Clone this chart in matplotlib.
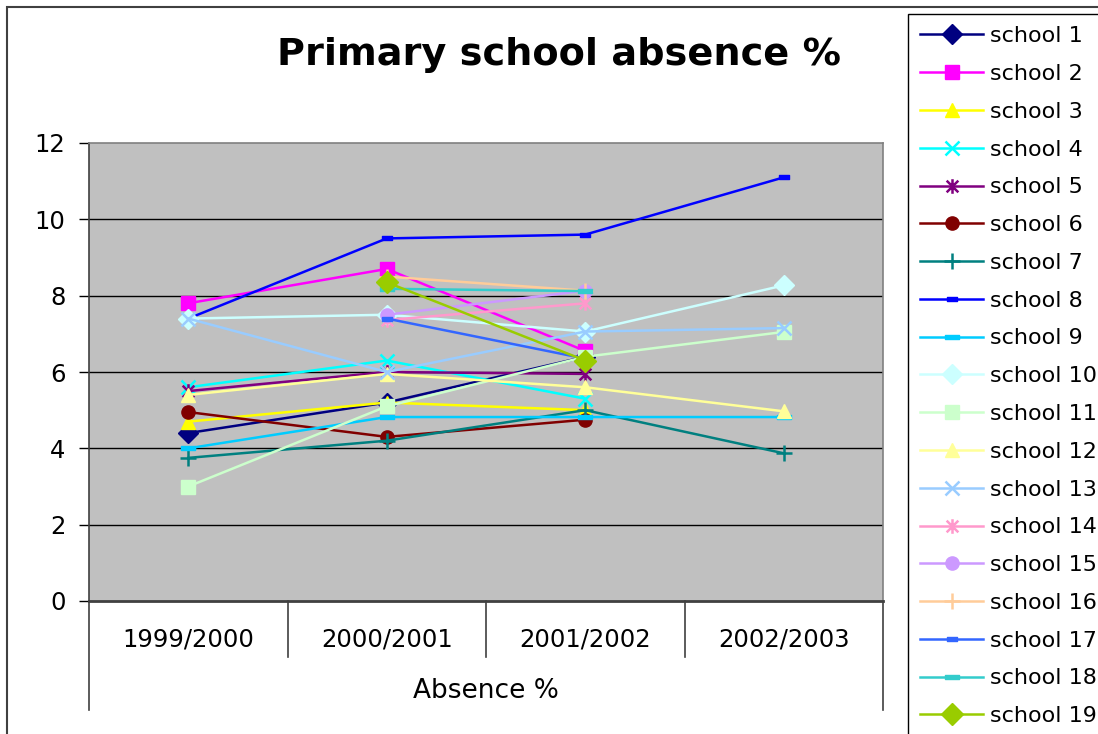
import numpy as np
import matplotlib
matplotlib.use("Agg")
import matplotlib.pyplot as plt
from matplotlib.path import Path
from matplotlib.patches import Rectangle
from matplotlib.lines import Line2D

nan = np.nan
categories = ["1999/2000", "2000/2001", "2001/2002", "2002/2003"]
school_names = ["school %d" % i for i in range(1, 20)]

s1 = [4.4, 5.2, 6.4, nan]
s2 = [7.8, 8.7, 6.55, nan]
s3 = [4.7, 5.2, 5.0, nan]
s4 = [5.6, 6.3, 5.3, nan]
s5 = [5.5, 6.0, 5.95, nan]
s6 = [4.95, 4.3, 4.75, nan]
s7 = [3.75, 4.2, 5.0, 3.87]
s8 = [7.4, 9.5, 9.6, 11.1]
s9 = [4.0, 4.82, 4.82, 4.82]
s10 = [7.4, 7.5, 7.06, 8.27]
s11 = [3.0, 5.1, 6.4, 7.05]
s12 = [5.4, 5.95, 5.6, 4.97]
s13 = [7.4, 6.0, 7.06, 7.15]
s14 = [nan, 7.36, 7.8, nan]
s15 = [nan, 7.5, 8.13, nan]
s16 = [nan, 8.5, 8.13, nan]
s17 = [nan, 7.4, 6.35, nan]
s18 = [nan, 8.18, 8.12, nan]
s19 = [nan, 8.35, 6.3, nan]
series = [s1, s2, s3, s4, s5, s6, s7, s8, s9, s10,
          s11, s12, s13, s14, s15, s16, s17, s18, s19]

colors = ["#000080", "#FF00FF", "#FFFF00", "#00FFFF", "#800080", "#800000",
          "#008080", "#0000FF", "#00CCFF", "#CCFFFF", "#CCFFCC", "#FFFF99",
          "#99CCFF", "#FF99CC", "#CC99FF", "#FFCC99", "#3366FF", "#33CCCC",
          "#99CC00"]

asterisk = Path([(-1, -1), (1, 1), (-1, 1), (1, -1), (0, -1.25), (0, 1.25)],
                [Path.MOVETO, Path.LINETO, Path.MOVETO, Path.LINETO,
                 Path.MOVETO, Path.LINETO])
dash = Path([(-1, -0.35), (1, -0.35), (1, 0.35), (-1, 0.35), (-1, -0.35)],
            [Path.MOVETO, Path.LINETO, Path.LINETO, Path.LINETO, Path.CLOSEPOLY])

# marker, size, filled
mstyles = [("D", 10, True), ("s", 9.5, True), ("^", 10.5, True), ("x", 9.5, False),
           (asterisk, 10.5, False), ("o", 9.5, True), ("+", 11, False),
           (dash, 7.5, True), (dash, 9.5, True),
           ("D", 10, True), ("s", 9.5, True), ("^", 10.5, True), ("x", 9.5, False),
           (asterisk, 10.5, False), ("o", 9.5, True), ("+", 11, False),
           (dash, 7.5, True), (dash, 9.5, True), ("D", 11, True)]

fig = plt.figure(figsize=(10.98, 7.34), dpi=100)
ax = fig.add_axes([89/1098, 1-601/734, (883-89)/1098, (601-143)/734])
ax.set_facecolor("#C0C0C0")

x = np.arange(len(categories))
for vals, c, (m, ms, filled), name in zip(series, colors, mstyles, school_names):
    if filled:
        ax.plot(x, vals, color=c, lw=1.8, marker=m, ms=ms, mfc=c, mec=c,
                mew=1.0, label=name)
    else:
        ax.plot(x, vals, color=c, lw=1.8, marker=m, ms=ms, mfc="none", mec=c,
                mew=1.8, label=name)

ax.set_xlim(-0.5, 3.5)
ax.set_ylim(0, 12)
ax.set_yticks([0, 2, 4, 6, 8, 10, 12])
for yv in [2, 4, 6, 8, 10]:
    ax.axhline(yv, color="black", lw=1.0, zorder=0.5)

ax.set_xticks(x)
ax.set_xticklabels(categories)
ax.tick_params(axis="x", length=0, pad=19, labelsize=17.5)
ax.tick_params(axis="y", direction="out", length=7, width=1, pad=10,
               labelsize=17.5, color="black")

for side in ["top", "right"]:
    ax.spines[side].set_color("#808080")
    ax.spines[side].set_linewidth(1.2)
ax.spines["left"].set_color("#404040")
ax.spines["left"].set_linewidth(1.2)
ax.spines["bottom"].set_color("#404040")
ax.spines["bottom"].set_linewidth(2)

# category separator lines below the axis
trans = ax.get_xaxis_transform()
for xb in [0.5, 1.5, 2.5]:
    ax.plot([xb, xb], [0, -56/458], transform=trans, color="#404040", lw=1.2,
            clip_on=False)
for xb in [-0.5, 3.5]:
    ax.plot([xb, xb], [0, -109/458], transform=trans, color="#404040", lw=1.2,
            clip_on=False)

ax.set_xlabel("Absence %", fontsize=19, va="center")
ax.xaxis.set_label_coords(0.5, -(691-601)/458)

fig.text(559/1098, 1-55/734, "Primary school absence %", fontsize=27.5,
         fontweight="bold", ha="center", va="center")

# outer chart border
fig.add_artist(Rectangle((7/1098, -0.2), 1.2, 1.2 - 7/734,
                         transform=fig.transFigure, fill=False,
                         edgecolor="#404040", lw=1.5))

handles = []
for c, (m, ms, filled), name in zip(colors, mstyles, school_names):
    if filled:
        h = Line2D([], [], color=c, lw=1.8, marker=m, ms=ms, mfc=c, mec=c)
    else:
        h = Line2D([], [], color=c, lw=1.8, marker=m, ms=ms, mfc="none",
                   mec=c, mew=1.8)
    handles.append(h)
leg = fig.legend(handles, school_names, loc="upper left",
                 bbox_to_anchor=(908/1098, 1-14/734), fontsize=16,
                 frameon=True, fancybox=False, edgecolor="black",
                 framealpha=1, borderpad=0.55, borderaxespad=0,
                 handlelength=2.84, handletextpad=0.32, labelspacing=0.80)
leg.get_frame().set_linewidth(1.0)

fig.savefig("out.png", dpi=100)
